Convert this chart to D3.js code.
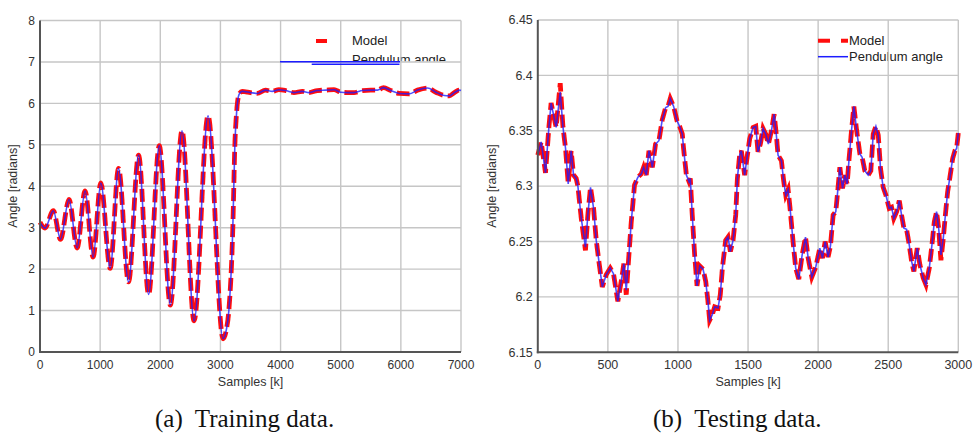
<!DOCTYPE html>
<html><head><meta charset="utf-8">
<script src="https://cdn.jsdelivr.net/npm/d3@7"></script>
<style>body{margin:0;background:#fff}svg text{font-family:"Liberation Sans",Arial,sans-serif}</style>
</head><body><svg id="c" width="976" height="434"></svg>
<script>
// ---------- data ----------
const trainSamples = [0,83,222,340,483,617,750,883,1011,1167,
 1306,1472,1639,1806,1983,2167,2361,2562,2794,3044,
 3100,3140,3206,3240,3270,3310,3361,3500,3611,3750,
 3861,3972,4083,4222,4361,4472,4611,4750,4889,5000,
 5111,5222,5361,5500,5611,5711,5833,5972,6139,6278,
 6444,6583,6722,6806,6889,6972,7000];
const trainAngle = [3.13,2.99,3.41,2.72,3.68,2.51,3.89,2.29,4.08,2.02,
 4.43,1.69,4.75,1.39,4.98,1.13,5.34,0.75,5.70,0.32,
 0.55,1.0,3.0,5.0,5.8,6.22,6.29,6.26,6.24,6.32,
 6.29,6.33,6.31,6.26,6.29,6.26,6.31,6.32,6.33,6.27,
 6.26,6.26,6.31,6.32,6.32,6.38,6.31,6.24,6.23,6.32,
 6.37,6.27,6.19,6.18,6.26,6.32,6.31];

const testSamples = [0,24,55,79,95,131,160,179,198,217,
 238,255,274,286,310,340,357,376,398,417,
 436,460,488,517,540,571,595,614,631,650,
 667,690,714,738,755,774,793,817,840,864,
 888,912,929,945,969,993,1012,1031,1040,1060,
 1079,1088,1102,1119,1136,1155,1179,1198,1214,1226,
 1245,1262,1286,1302,1317,1340,1357,1374,1393,1412,
 1424,1440,1452,1476,1493,1512,1536,1555,1571,1588,
 1607,1626,1645,1667,1686,1702,1714,1738,1755,1769,
 1786,1802,1821,1840,1862,1886,1910,1929,1955,1983,
 2012,2031,2050,2071,2088,2107,2126,2143,2155,2174,
 2190,2207,2221,2238,2255,2274,2298,2314,2333,2357,
 2376,2393,2412,2429,2445,2464,2483,2507,2524,2540,
 2560,2579,2595,2612,2631,2650,2667,2683,2707,2726,
 2750,2769,2793,2812,2829,2845,2860,2876,2893,2910,
 2924,2940,2960,2976,2988,3000];
const testAngle = [6.328,6.340,6.312,6.353,6.375,6.353,6.385,6.354,6.334,6.302,
 6.332,6.310,6.307,6.300,6.271,6.245,6.274,6.299,6.280,6.251,
 6.232,6.209,6.220,6.226,6.221,6.196,6.214,6.230,6.206,6.238,
 6.268,6.301,6.308,6.311,6.317,6.310,6.332,6.317,6.338,6.341,
 6.360,6.371,6.372,6.379,6.372,6.359,6.354,6.347,6.334,6.310,
 6.304,6.307,6.274,6.238,6.210,6.228,6.225,6.214,6.196,6.179,
 6.184,6.191,6.190,6.202,6.226,6.251,6.254,6.241,6.251,6.274,
 6.307,6.328,6.332,6.310,6.326,6.343,6.353,6.354,6.331,6.338,
 6.352,6.347,6.338,6.350,6.365,6.346,6.328,6.323,6.304,6.292,
 6.297,6.277,6.250,6.226,6.216,6.238,6.254,6.235,6.218,6.227,
 6.244,6.235,6.250,6.236,6.246,6.274,6.277,6.300,6.317,6.298,
 6.310,6.302,6.325,6.350,6.372,6.351,6.329,6.326,6.314,6.310,
 6.314,6.347,6.354,6.346,6.316,6.299,6.292,6.280,6.281,6.271,
 6.277,6.287,6.274,6.262,6.261,6.247,6.232,6.223,6.244,6.229,
 6.217,6.211,6.226,6.247,6.268,6.277,6.262,6.238,6.253,6.277,
 6.295,6.308,6.325,6.332,6.334,6.348];
// model values where the model visibly departs from the measured angle
const testModelSamples = [160, 340, 631, 2876];
const testModelAngle = [6.393, 6.242, 6.202, 6.233];

const trainXTicks = [0,1000,2000,3000,4000,5000,6000,7000];
const trainYTicks = [0,1,2,3,4,5,6,7,8];
const testXTicks = [0,500,1000,1500,2000,2500,3000];
const testYTicks = [6.15,6.2,6.25,6.3,6.35,6.4,6.45];
const testYLabels = ["6.15","6.2","6.25","6.3","6.35","6.4","6.45"];
const seriesNames = ["Model","Pendulum angle"];
const xTitle = "Samples [k]";
const yTitle = "Angle [radians]";
const captions = ["(a)  Training data.", "(b)  Testing data."];

// ---------- drawing ----------
const svg = d3.select("#c");
svg.append("rect").attr("width",976).attr("height",434).attr("fill","#fff");
const defs = svg.append("defs");
defs.append("filter").attr("id","soft").attr("filterUnits","userSpaceOnUse")
  .attr("x",0).attr("y",0).attr("width",976).attr("height",434)
  .append("feGaussianBlur").attr("stdDeviation",0.6);

const GRID = "#c6c6c6", AXIS = "#555", TXT = "#333";
const RED = "#ff1010", BLUE = "#1c1cff";

function panel(cfg){
  const g = svg.append("g");
  const x = d3.scaleLinear().domain(cfg.xDom).range(cfg.xR);
  const y = d3.scaleLinear().domain(cfg.yDom).range(cfg.yR);
  const mod = cfg.model, meas = cfg.meas;
  const line = d3.line().x(d=>x(d[0])).y(d=>y(d[1])).curve(cfg.curve);

  cfg.legend(g, x, y);

  // gridlines
  g.selectAll(".vg").data(cfg.xTicks.slice(1)).join("line")
    .attr("x1",d=>x(d)).attr("x2",d=>x(d)).attr("y1",y(cfg.yDom[0])).attr("y2",y(cfg.yDom[1]))
    .attr("stroke",GRID).attr("stroke-width",1.4);
  g.selectAll(".hg").data(cfg.yTicks.slice(1)).join("line")
    .attr("y1",d=>y(d)).attr("y2",d=>y(d)).attr("x1",x(cfg.xDom[0])).attr("x2",x(cfg.xDom[1]))
    .attr("stroke",GRID).attr("stroke-width",1.4);

  cfg.legendLines(g, x, y);

  // series
  g.append("path").attr("d",line(mod)).attr("fill","none").attr("stroke",RED)
    .attr("stroke-width",4.8).attr("stroke-dasharray","13,5").attr("filter","url(#soft)");
  g.append("path").attr("d",line(meas)).attr("fill","none").attr("stroke",BLUE)
    .attr("stroke-width",1.6).attr("stroke-opacity",0.78);

  // axes spines
  g.append("line").attr("x1",x(cfg.xDom[0])).attr("x2",x(cfg.xDom[0])).attr("y1",y(cfg.yDom[0])+1).attr("y2",y(cfg.yDom[1]))
    .attr("stroke",AXIS).attr("stroke-width",2);
  g.append("line").attr("x1",x(cfg.xDom[0])-1).attr("x2",x(cfg.xDom[1])).attr("y1",y(cfg.yDom[0])).attr("y2",y(cfg.yDom[0]))
    .attr("stroke",AXIS).attr("stroke-width",2);

  // tick labels
  g.selectAll(".xt").data(cfg.xTicks).join("text")
    .attr("x",d=>x(d)).attr("y",y(cfg.yDom[0])+16.5).attr("text-anchor","middle")
    .attr("font-size",cfg.tickFs).attr("fill",TXT).text(d=>d);
  g.selectAll(".yt").data(cfg.yTicks).join("text")
    .attr("x",x(cfg.xDom[0])-5).attr("y",d=>y(d)+4.3).attr("text-anchor","end")
    .attr("font-size",cfg.tickFs).attr("fill",TXT).text((d,i)=>cfg.yLabels[i]);

  // titles
  g.append("text").attr("x",(cfg.xR[0]+cfg.xR[1])/2).attr("y",386).attr("text-anchor","middle")
    .attr("font-size",12.5).attr("fill",TXT).text(xTitle);
  g.append("text").attr("transform",`translate(${cfg.yTitleX},186) rotate(-90)`).attr("text-anchor","middle")
    .attr("font-size",12.5).attr("fill",TXT).text(yTitle);

  // caption
  svg.append("text").attr("x",cfg.capX).attr("y",427).attr("font-size",25)
    .style("font-family","'Liberation Serif','Times New Roman',serif")
    .style("white-space","pre").attr("fill","#111").text(cfg.caption);
}

const trainData = trainSamples.map((s,i)=>[s,trainAngle[i]]);
const testData = testSamples.map((s,i)=>[s,testAngle[i]]);
const testModel = testData.map(d=>{
  const k = testModelSamples.indexOf(d[0]);
  return k>=0 ? [d[0], testModelAngle[k]] : d;
});

// left panel
panel({
  xDom:[0,7000], yDom:[0,8], xR:[40,461], yR:[352,20.5],
  xTicks:trainXTicks, yTicks:trainYTicks, yLabels:trainYTicks.map(String),
  model:trainData, meas:trainData, curve:d3.curveMonotoneX,
  tickFs:12, yTitleX:17, capX:155, caption:captions[0],
  legend:(g)=>{
    g.append("clipPath").attr("id","lclip").append("rect").attr("x",340).attr("y",20).attr("width",130).attr("height",41.5);
    g.append("text").attr("x",352).attr("y",44.5).attr("font-size",13).attr("fill","#222").text(seriesNames[0]);
    g.append("text").attr("x",352).attr("y",63.5).attr("font-size",13).attr("fill","#222")
      .attr("clip-path","url(#lclip)").text(seriesNames[1]);
  },
  legendLines:(g)=>{
    g.append("line").attr("x1",316).attr("x2",327).attr("y1",41).attr("y2",41)
      .attr("stroke",RED).attr("stroke-width",4).attr("filter","url(#soft)");
    g.append("line").attr("x1",280).attr("x2",400).attr("y1",61.7).attr("y2",61.7).attr("stroke",BLUE).attr("stroke-width",1.5);
    g.append("line").attr("x1",311.7).attr("x2",399.5).attr("y1",64.2).attr("y2",64.2).attr("stroke",BLUE).attr("stroke-width",1.5);
  }
});

// right panel
panel({
  xDom:[0,3000], yDom:[6.15,6.45], xR:[537.8,958.3], yR:[352.3,20],
  xTicks:testXTicks, yTicks:testYTicks, yLabels:testYLabels,
  model:testModel, meas:testData, curve:d3.curveLinear,
  tickFs:12.5, yTitleX:496, capX:653, caption:captions[1],
  legend:(g)=>{
    g.append("text").attr("x",849).attr("y",45).attr("font-size",13).attr("fill","#222").text(seriesNames[0]);
    g.append("text").attr("x",849).attr("y",60.5).attr("font-size",13).attr("fill","#222").text(seriesNames[1]);
  },
  legendLines:(g)=>{
    g.append("line").attr("x1",818).attr("x2",848).attr("y1",40.7).attr("y2",40.7)
      .attr("stroke",RED).attr("stroke-width",4).attr("stroke-dasharray","12,11").attr("filter","url(#soft)");
    g.append("line").attr("x1",818).attr("x2",848).attr("y1",56.7).attr("y2",56.7).attr("stroke",BLUE).attr("stroke-width",1.5);
  }
});
</script></body></html>
